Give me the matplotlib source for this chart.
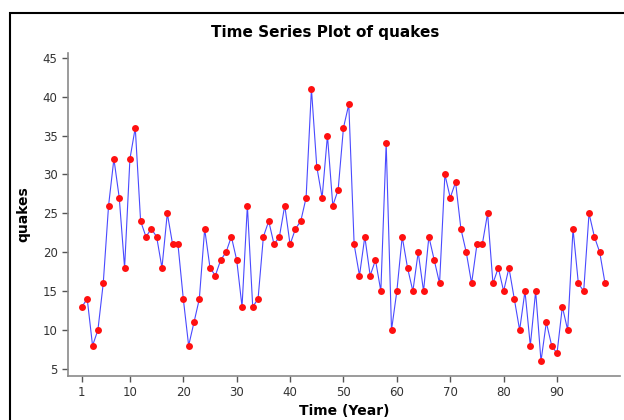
import matplotlib
matplotlib.use("Agg")
import matplotlib.pyplot as plt
from matplotlib.patches import Rectangle

# number of major earthquakes per year
quakes = [13, 14, 8, 10, 16, 26, 32, 27, 18, 32, 36, 24, 22, 23, 22, 18, 25, 21, 21, 14,
          8, 11, 14, 23, 18, 17, 19, 20, 22, 19, 13, 26, 13, 14, 22, 24, 21, 22, 26, 21,
          23, 24, 27, 41, 31, 27, 35, 26, 28, 36, 39, 21, 17, 22, 17, 19, 15, 34, 10, 15,
          22, 18, 15, 20, 15, 22, 19, 16, 30, 27, 29, 23, 20, 16, 21, 21, 25, 16, 18, 15,
          18, 14, 10, 15, 8, 15, 6, 11, 8, 7, 13, 10, 23, 16, 15, 25, 22, 20, 16]
time_idx = list(range(1, len(quakes) + 1))
x_ticks = [1, 10, 20, 30, 40, 50, 60, 70, 80, 90]
y_ticks = [5, 10, 15, 20, 25, 30, 35, 40, 45]

W, H = 624, 420
fig = plt.figure(figsize=(W / 100, H / 100), dpi=100)
fig.patch.set_facecolor("white")

# outer frame (cut off on right/bottom like the screenshot)
fig.patches.append(Rectangle((10 / W, -0.1), 1.2, 1 - 13 / H + 0.1,
                             transform=fig.transFigure, fill=False,
                             edgecolor="black", linewidth=1.5))

ax = fig.add_axes([68 / W, 1 - 376 / H, (620 - 68) / W, (376 - 53) / H])
ax.plot(time_idx, quakes, color="#4a4aff", linewidth=0.8)
ax.plot(time_idx, quakes, linestyle="none", marker="o", markersize=5,
        color="#ff1010", markeredgewidth=0)

ax.set_xlim(-1.6, 101.8)
ax.set_ylim(4.1, 45.6)
ax.set_xticks(x_ticks)
ax.set_yticks(y_ticks)
for side in ["top", "right"]:
    ax.spines[side].set_visible(False)
for side in ["left", "bottom"]:
    ax.spines[side].set_color("#8a8a8a")
    ax.spines[side].set_linewidth(1.2)
ax.tick_params(colors="#555555", labelcolor="#333333", labelsize=8.5,
               length=4, width=1, direction="out")

ax.set_ylabel("quakes", fontsize=10, fontweight="bold")
ax.yaxis.set_label_coords((30 - 68) / 552, 0.5)
ax.set_xlabel("Time (Year)", fontsize=10, fontweight="bold", labelpad=3)
fig.text(325 / W, 1 - 32 / H, "Time Series Plot of quakes", ha="center",
         va="center", fontsize=11, fontweight="bold")

fig.savefig("out.png", dpi=100)
